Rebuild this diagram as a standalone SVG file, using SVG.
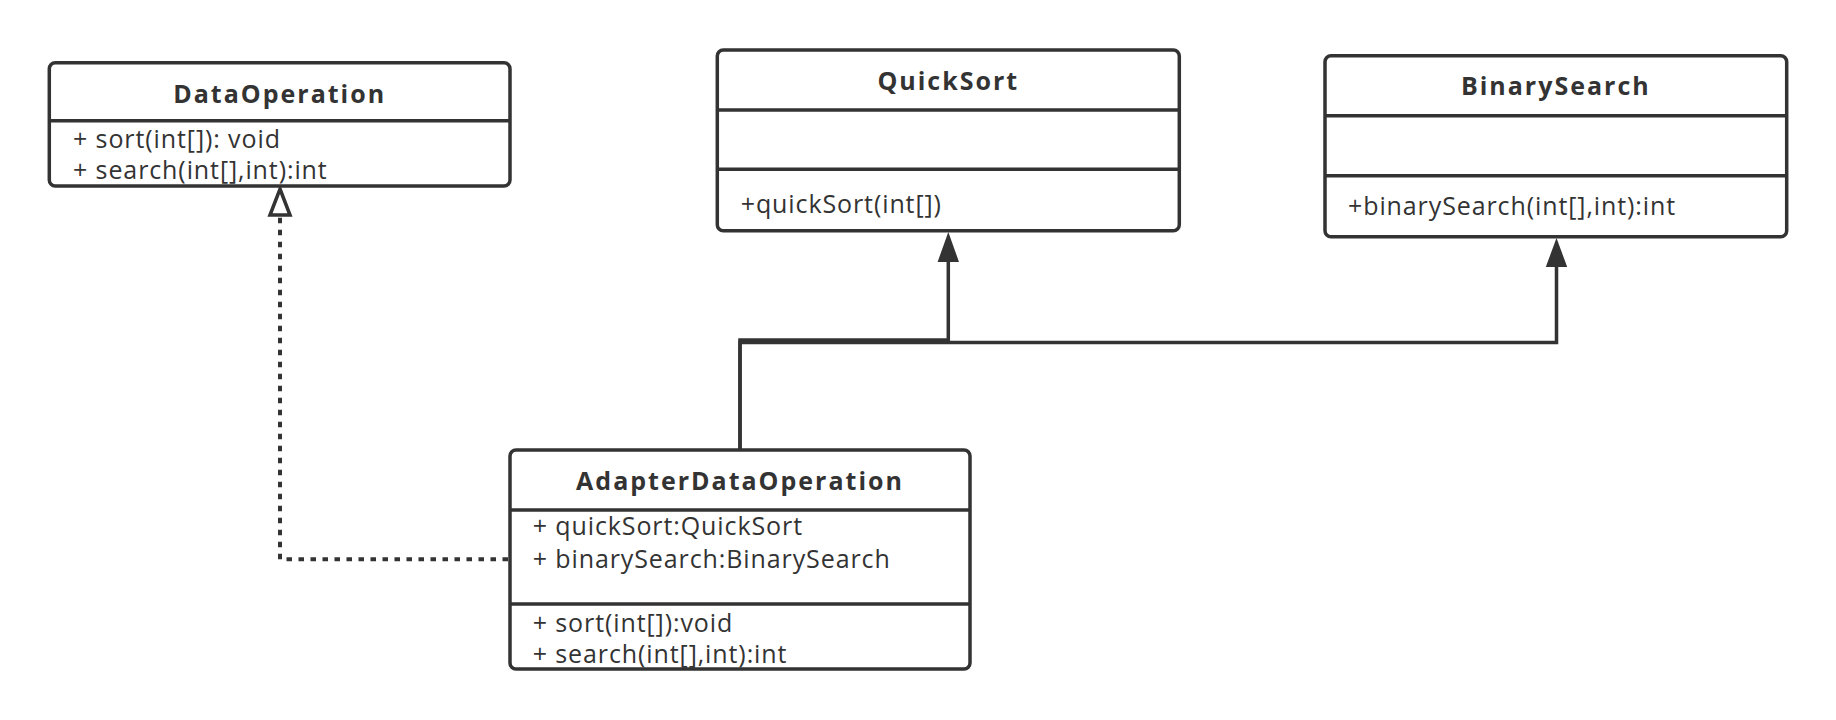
<svg xmlns="http://www.w3.org/2000/svg" width="1836" height="720" viewBox="0 0 1836 720">
<defs>
<style>
.box{fill:#fff;stroke:#333;stroke-width:3.5}
.div{stroke:#333;stroke-width:3.5}
.title{font-family:"Open Sans","Noto Sans",sans-serif;font-weight:bold;font-size:25px;fill:#333;text-anchor:middle;letter-spacing:2px}
.txt{font-family:"Open Sans","Noto Sans",sans-serif;font-size:25px;fill:#333;letter-spacing:0.9px}
.ln{fill:none;stroke:#333;stroke-width:3.5}
.dash{fill:none;stroke:#333;stroke-width:4;stroke-dasharray:5.5 6.5}
</style>
</defs>
<rect width="1836" height="720" fill="#fff"/>
<g id="connectors">
<path class="dash" d="M508,559.3 H280 V216"/>
<path d="M280,189 L290,215 H270 Z" fill="#fff" stroke="#333" stroke-width="3.5" stroke-linejoin="miter"/>
<path class="ln" d="M740,450 V340 H948.3 V258"/>
<path d="M948.3,232 L959,262 H937.6 Z" fill="#333"/>
<path class="ln" d="M740,450 V342.5 H1556.5 V262"/>
<path d="M1556.5,238 L1567.2,267 H1545.8 Z" fill="#333"/>
</g>
<g id="DataOperation">
<rect class="box" x="49.3" y="62.7" width="460.7" height="123.3" rx="6"/>
<line class="div" x1="49.3" y1="120.7" x2="510" y2="120.7"/>
<text class="title" x="279.7" y="102.7">DataOperation</text>
<text class="txt" x="73" y="148">+ sort(int[]): void</text>
<text class="txt" x="73" y="179.3">+ search(int[],int):int</text>
</g>
<g id="QuickSort">
<rect class="box" x="717.3" y="50" width="462" height="180.7" rx="6"/>
<line class="div" x1="717.3" y1="110" x2="1179.3" y2="110"/>
<line class="div" x1="717.3" y1="169.3" x2="1179.3" y2="169.3"/>
<text class="title" x="948.3" y="90">QuickSort</text>
<text class="txt" x="740.7" y="213.3">+quickSort(int[])</text>
</g>
<g id="BinarySearch">
<rect class="box" x="1325" y="55.7" width="461.7" height="181" rx="6"/>
<line class="div" x1="1325" y1="115.7" x2="1786.7" y2="115.7"/>
<line class="div" x1="1325" y1="175.7" x2="1786.7" y2="175.7"/>
<text class="title" x="1555.8" y="95">BinarySearch</text>
<text class="txt" x="1348" y="215">+binarySearch(int[],int):int</text>
</g>
<g id="AdapterDataOperation">
<rect class="box" x="510" y="450" width="460" height="219" rx="6"/>
<line class="div" x1="510" y1="510" x2="970" y2="510"/>
<line class="div" x1="510" y1="604" x2="970" y2="604"/>
<text class="title" x="740" y="490">AdapterDataOperation</text>
<text class="txt" x="532.7" y="535">+ quickSort:QuickSort</text>
<text class="txt" x="532.7" y="567.7">+ binarySearch:BinarySearch</text>
<text class="txt" x="532.7" y="631.7">+ sort(int[]):void</text>
<text class="txt" x="532.7" y="662.7">+ search(int[],int):int</text>
</g>
</svg>
